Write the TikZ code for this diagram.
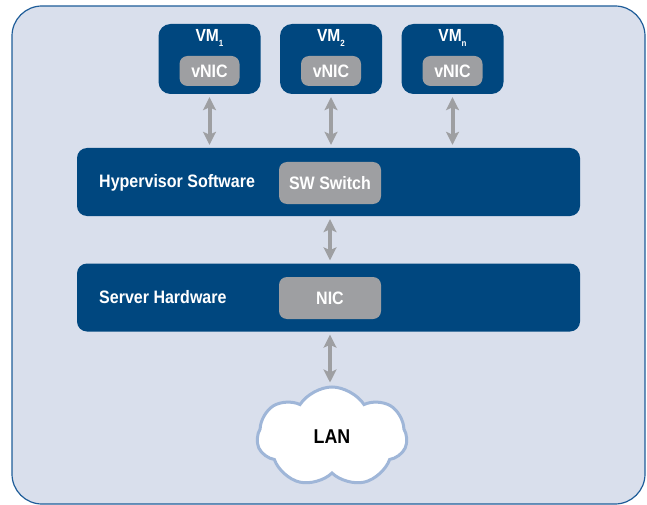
\documentclass[tikz,border=0pt]{standalone}
\usepackage{fontspec}
\setmainfont{Liberation Sans}[FakeStretch=0.89]
\usetikzlibrary{arrows.meta,shapes.symbols}

\definecolor{frameblue}{HTML}{1F5D99}
\definecolor{paleblue}{HTML}{D9DFEC}
\definecolor{boxblue}{HTML}{00477F}
\definecolor{portgray}{HTML}{9E9FA2}
\definecolor{cloudedge}{HTML}{9FB6D8}

% lowered index after VM
\newcommand{\vmidx}[1]{\raisebox{-0.5ex}{\fontsize{9}{9}\selectfont #1}}

\begin{document}
\begin{tikzpicture}[x=1pt, y=-1pt, font=\bfseries,
  layer/.style={fill=boxblue, rounded corners=10pt, minimum width=503pt,
    minimum height=68pt, inner sep=0pt},
  vmbox/.style={fill=boxblue, rounded corners=12pt, minimum width=102pt,
    minimum height=70pt, inner sep=0pt},
  port/.style={fill=portgray, text=white, rounded corners=8pt, inner sep=0pt,
    font=\bfseries\fontsize{18}{20}\selectfont},
  tag/.style={text=white, inner sep=0pt, font=\bfseries\fontsize{18}{20}\selectfont},
  link/.style={{Stealth[length=13pt,width=13pt,inset=3pt]}-{Stealth[length=13pt,width=13pt,inset=3pt]},
    draw=portgray, line width=4pt, shorten >=3pt, shorten <=3pt}]

\useasboundingbox (0,0) rectangle (647,505);
\draw[frameblue, fill=paleblue, line width=1.2pt, rounded corners=30pt]
  (12,6) rectangle (645,504);

% virtual machines
\node[vmbox] (vm1) at (209.5,59) {};
\node[vmbox] (vm2) at (331,59) {};
\node[vmbox] (vmn) at (452.5,59) {};
\foreach \v/\i in {vm1/1, vm2/2, vmn/n} {
  \node[tag, font=\bfseries\fontsize{17.5}{19}\selectfont] (\v-lbl) at ([yshift=21pt]\v) {VM\vmidx{\i}};
  \node[port, minimum width=60pt, minimum height=30pt] (\v-nic) at ([yshift=-12pt]\v) {vNIC};
}

% hypervisor and hardware layers
\node[layer] (hyp) at (328.5,182) {};
\node[tag, anchor=west] (hyp-lbl) at (99,183) {Hypervisor Software};
\node[port, minimum width=102pt, minimum height=42pt] (sw) at (330,183) {SW Switch};

\node[layer] (srv) at (328.5,297.5) {};
\node[tag, anchor=west] (srv-lbl) at (99,297) {Server Hardware};
\node[port, minimum width=102pt, minimum height=42pt] (nic) at (330,298) {NIC};

% network
\node[cloud, cloud puffs=7, cloud puff arc=115, aspect=1.4, fill=white, draw=cloudedge,
  line width=3pt, minimum width=150pt, minimum height=100pt, inner sep=0pt,
  font=\bfseries\fontsize{20}{22}\selectfont] (lan) at (332,437) {LAN};

\foreach \v in {vm1, vm2, vmn}
  \draw[link] (\v.south) -- (\v.south |- hyp.north);
\draw[link] (sw.south |- hyp.south) -- (sw.south |- srv.north);
\draw[link] (nic.south |- srv.south) -- (nic.south |- lan.north);

\end{tikzpicture}
\end{document}
